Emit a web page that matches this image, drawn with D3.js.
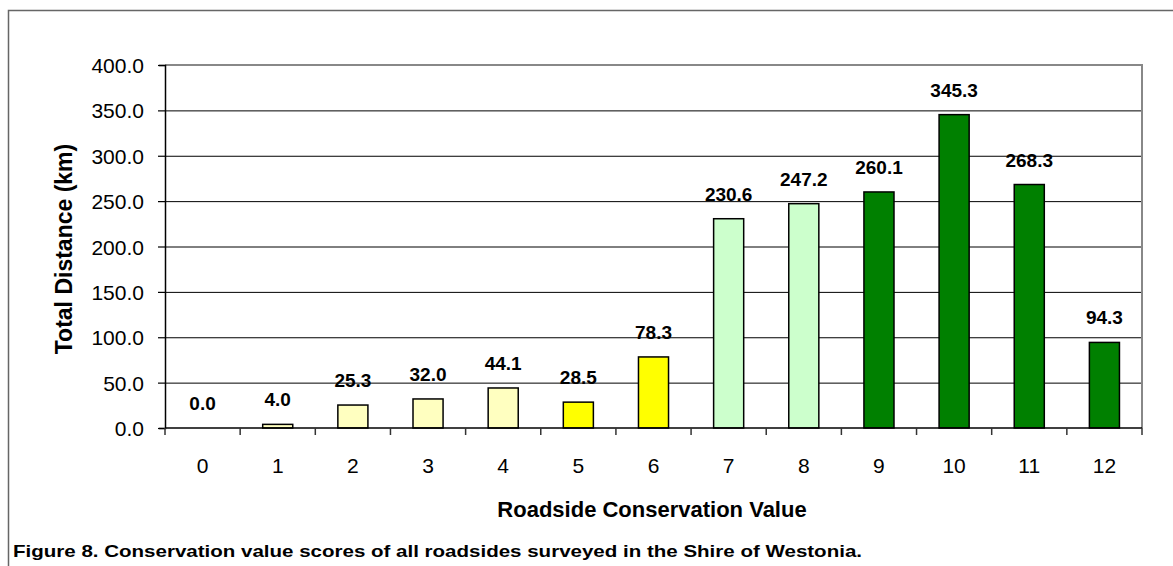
<html>
  <head>
    <style>
      body { margin: 0; background: #fff; }
      text { font-family: Arial, "Liberation Sans", sans-serif; fill: #000; }
    </style>
  </head>
  <body>
    <script src="https://d3js.org/d3.v7.min.js"></script>
    <script>
    var width = 1173, height = 566;

    // chart data
    var categories = ["0", "1", "2", "3", "4", "5", "6", "7", "8", "9", "10", "11", "12"];
    var distances = [0.0, 4.0, 25.3, 32.0, 44.1, 28.5, 78.3, 230.6, 247.2, 260.1, 345.3, 268.3, 94.3];
    var barColours = ["#ffffc0", "#ffffc0", "#ffffc0", "#ffffc0", "#ffffc0", "#ffff00", "#ffff00",
                      "#ccffcc", "#ccffcc", "#008000", "#008000", "#008000", "#008000"];
    var yTicks = [0, 50, 100, 150, 200, 250, 300, 350, 400];

    var margin = {left: 165, top: 65, right: 31, bottom: 138};
    var plotW = width - margin.left - margin.right,
        plotH = height - margin.top - margin.bottom;

    var svg = d3.select("body")
        .append("svg")
        .attr("width", width)
        .attr("height", height);

    // outer frame (top and left edges visible)
    svg.append("path")
        .attr("d", "M8.5," + height + "V10.5H" + width)
        .attr("fill", "none")
        .attr("stroke", "#666")
        .attr("stroke-width", 1.5);

    var g = svg.append("g").attr("transform", "translate(" + margin.left + "," + margin.top + ")");

    var x = d3.scaleBand().domain(categories).range([0, plotW]).paddingInner(0.6).paddingOuter(0.3);
    var y = d3.scaleLinear().domain([0, 400]).range([plotH, 0]);

    // gridlines
    g.selectAll(".grid")
        .data(yTicks.slice(1, -1))
        .enter().append("line")
          .attr("x1", 0).attr("x2", plotW)
          .attr("y1", function(d) { return y(d) + 0.5; })
          .attr("y2", function(d) { return y(d) + 0.5; })
          .attr("stroke", "#000").attr("stroke-width", 1);

    // top and right plot border
    g.append("path")
        .attr("d", "M0," + y(400) + "H" + plotW + "V" + plotH)
        .attr("fill", "none").attr("stroke", "#888").attr("stroke-width", 2);

    // bars
    g.selectAll(".bar")
        .data(distances)
        .enter().append("rect")
          .attr("x", function(d, i) { return x(categories[i]); })
          .attr("width", x.bandwidth())
          .attr("y", function(d) { return y(d); })
          .attr("height", function(d) { return plotH - y(d); })
          .attr("fill", function(d, i) { return barColours[i]; })
          .attr("stroke", "#000").attr("stroke-width", 1.5);

    // value labels
    g.selectAll(".lbl")
        .data(distances)
        .enter().append("text")
          .attr("x", function(d, i) { return x(categories[i]) + x.bandwidth() / 2; })
          .attr("y", function(d) { return y(d) - 18; })
          .attr("text-anchor", "middle")
          .style("font-size", "19px").style("font-weight", "bold")
          .text(function(d) { return d.toFixed(1); });

    // y axis
    var yAxis = g.append("g")
        .call(d3.axisLeft(y).tickValues(yTicks).tickSize(6).tickPadding(15)
          .tickFormat(function(d) { return d.toFixed(1); }));
    yAxis.select(".domain").attr("stroke", "#000").attr("stroke-width", 1.5);
    yAxis.selectAll(".tick line").attr("x2", -7).attr("stroke-width", 1.2);
    yAxis.selectAll("text").style("font-size", "21px").attr("dy", "0.36em");

    // x axis with ticks between categories
    var xEdge = d3.scaleLinear().domain([0, categories.length]).range([0, plotW]);
    var xAxis = g.append("g").attr("transform", "translate(0," + plotH + ")");
    xAxis.append("line").attr("x1", 0).attr("x2", plotW).attr("stroke", "#000").attr("stroke-width", 1.5);
    xAxis.selectAll(".tk")
        .data(d3.range(categories.length + 1))
        .enter().append("line")
          .attr("x1", function(d) { return xEdge(d); })
          .attr("x2", function(d) { return xEdge(d); })
          .attr("y1", 0).attr("y2", 7)
          .attr("stroke", "#333").attr("stroke-width", 1.5);
    xAxis.selectAll(".xl")
        .data(categories)
        .enter().append("text")
          .attr("x", function(d) { return x(d) + x.bandwidth() / 2; })
          .attr("y", 45)
          .attr("text-anchor", "middle")
          .style("font-size", "21px")
          .text(function(d) { return d; });

    // axis titles
    svg.append("text")
        .attr("x", 652).attr("y", 517)
        .attr("text-anchor", "middle")
        .style("font-size", "22px").style("font-weight", "bold")
        .text("Roadside Conservation Value");

    svg.append("text")
        .attr("transform", "translate(72,249) rotate(-90)")
        .attr("text-anchor", "middle")
        .style("font-size", "23px").style("font-weight", "bold")
        .text("Total Distance (km)");

    // caption
    svg.append("text")
        .attr("x", 13).attr("y", 557)
        .attr("textLength", 849).attr("lengthAdjust", "spacingAndGlyphs")
        .style("font-size", "17px").style("font-weight", "bold")
        .text("Figure 8. Conservation value scores of all roadsides surveyed in the Shire of Westonia.");
    </script>
  </body>
</html>
